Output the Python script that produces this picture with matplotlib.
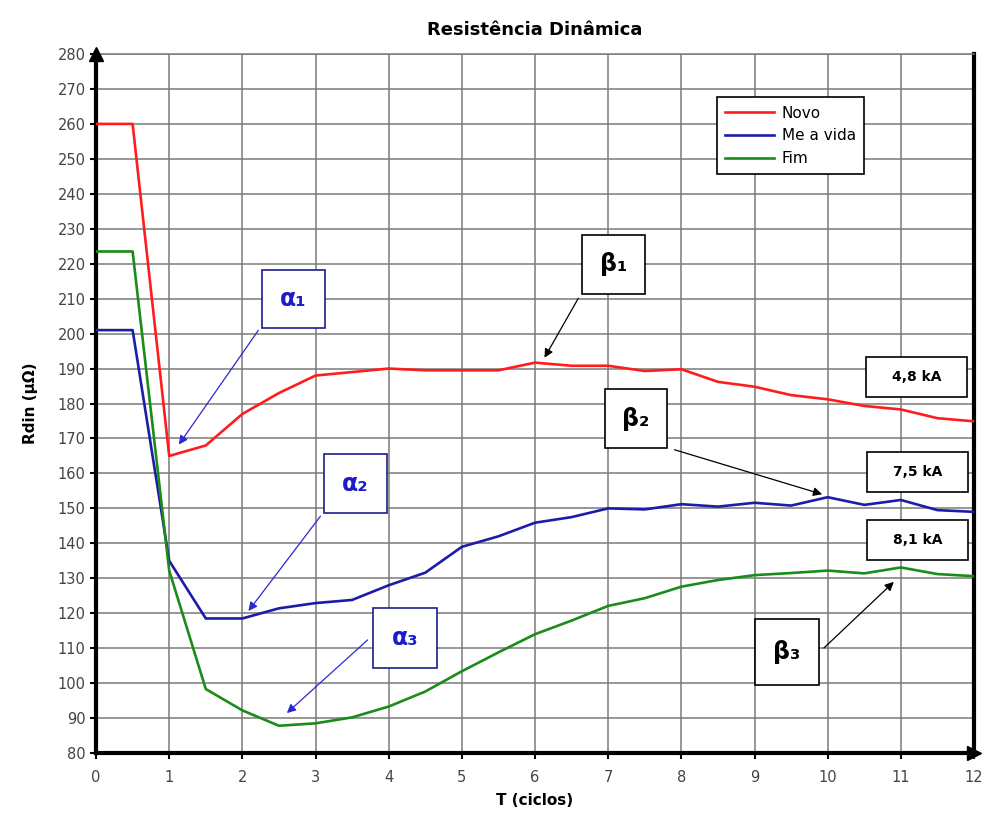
import matplotlib.pyplot as plt
from matplotlib.patches import Rectangle

# time in cycles
t = [0, 0.5, 1, 1.5, 2, 2.5, 3, 3.5, 4, 4.5, 5, 5.5, 6, 6.5, 7, 7.5, 8, 8.5, 9, 9.5, 10, 10.5, 11, 11.5, 12]

novo = [260, 260, 165, 168, 177, 183, 188, 189, 190, 189.5, 189.5, 189.5, 191.7, 190.8, 190.8, 189.3,
        189.8, 186.2, 184.8, 182.4, 181.2, 179.3, 178.3, 175.8, 174.9]
meia_vida = [201, 201, 135, 118.5, 118.5, 121.4, 122.9, 123.8, 128, 131.6, 139, 142, 145.9, 147.5, 150,
             149.7, 151.2, 150.5, 151.6, 150.8, 153.2, 151, 152.4, 149.5, 149]
fim = [223.5, 223.5, 132.2, 98.3, 92.2, 87.8, 88.5, 90.2, 93.3, 97.6, 103.4, 108.8, 114, 117.9, 122.1,
       124.3, 127.6, 129.5, 130.9, 131.5, 132.2, 131.4, 133.1, 131.2, 130.6]

series_names = ['Novo', 'Me a vida', 'Fim']
series_colors = ['#ff1c1c', '#1c1ca8', '#1a8c1a']

fig = plt.figure(figsize=(9.87, 8.17), dpi=100)
ax = fig.add_axes([0.0973, 0.0783, 0.8896, 0.8556])

for vals, name, col in zip([novo, meia_vida, fim], series_names, series_colors):
    ax.plot(t, vals, color=col, lw=1.9, label=name, zorder=3)

ax.set_xlim(0, 12)
ax.set_ylim(80, 280)
ax.set_xticks(range(0, 13))
ax.set_yticks(range(80, 281, 10))
ax.grid(True, color='#7a7a7a', lw=1.1, zorder=0)
ax.tick_params(axis='both', labelsize=10.5, labelcolor='#444444', length=4, width=1.5)
ax.tick_params(axis='x', pad=8)

for side in ['left', 'bottom', 'right']:
    ax.spines[side].set_linewidth(3)
ax.spines['top'].set_linewidth(1.1)
ax.spines['top'].set_color('#7a7a7a')

# axis arrows
ax.plot(0, 1, marker='^', color='black', ms=10, transform=ax.transAxes, clip_on=False, zorder=5)
ax.plot(1, 0, marker='>', color='black', ms=10, transform=ax.transAxes, clip_on=False, zorder=5)

ax.set_title('Resistência Dinâmica', fontsize=13, fontweight='bold', pad=14)
ax.set_xlabel('T (ciclos)', fontsize=11, fontweight='bold', labelpad=6)
ax.set_ylabel('Rdin (μΩ)', fontsize=11, fontweight='bold', labelpad=14)

leg = ax.legend(loc='upper left', bbox_to_anchor=(0.707, 0.938), fancybox=False, framealpha=1,
                edgecolor='black', fontsize=11, borderaxespad=0, handlelength=3.2,
                borderpad=0.55, labelspacing=0.5, handletextpad=0.5)
leg.get_frame().set_linewidth(1.2)
leg.set_zorder(6)

# annotation boxes: label, center x, center y, width, height, color
boxes = [
    ('α₁', 2.70, 209.9, 0.86, 16.6, '#1c1cc8'),
    ('α₂', 3.54, 157.0, 0.86, 16.9, '#1c1cc8'),
    ('α₃', 4.22, 112.9, 0.88, 17.2, '#1c1cc8'),
    ('β₁', 7.07, 219.8, 0.86, 16.9, 'black'),
    ('β₂', 7.38, 175.7, 0.85, 16.9, 'black'),
    ('β₃', 9.44, 108.9, 0.87, 18.9, 'black'),
]
for lab, cx, cy, w, h, col in boxes:
    edge = '#1c1c8c' if col != 'black' else 'black'
    ax.add_patch(Rectangle((cx - w / 2, cy - h / 2), w, h, facecolor='white', edgecolor=edge,
                           lw=1.2, zorder=6))
    ax.text(cx, cy, lab, color=col, fontsize=17, fontweight='bold', ha='center', va='center', zorder=7)

arrows = [
    ((2.24, 201.6), (1.11, 167.6), '#2a2ad0'),
    ((3.09, 148.4), (2.06, 120.0), '#2a2ad0'),
    ((3.74, 112.9), (2.58, 90.9), '#2a2ad0'),
    ((6.61, 210.8), (6.11, 192.4), 'black'),
    ((7.87, 167.0), (9.96, 153.8), 'black'),
    ((9.92, 109.5), (10.93, 129.5), 'black'),
]
for tail, head, col in arrows:
    ax.annotate('', xy=head, xytext=tail,
                arrowprops=dict(arrowstyle='-|>', color=col, lw=0.9, mutation_scale=13), zorder=5)

currents = [('4,8 kA', 11.21, 187.6), ('7,5 kA', 11.23, 160.3), ('8,1 kA', 11.23, 141.0)]
for lab, cx, cy in currents:
    ax.add_patch(Rectangle((cx - 0.69, cy - 5.7), 1.38, 11.4, facecolor='white', edgecolor='black',
                           lw=1.2, zorder=6))
    ax.text(cx, cy, lab, fontsize=10, fontweight='bold', ha='center', va='center', zorder=7)

fig.savefig('out.png', dpi=100)
